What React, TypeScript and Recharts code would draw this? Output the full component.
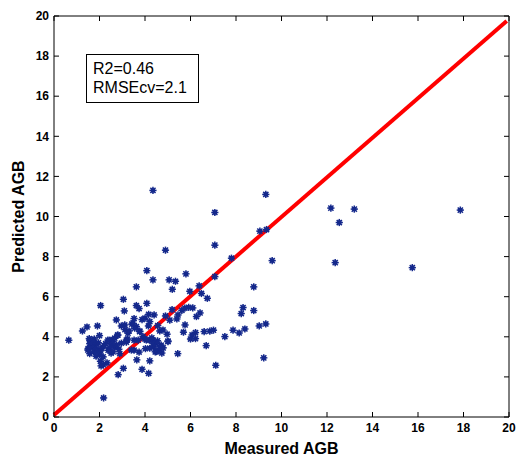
import { ScatterChart, Scatter, XAxis, YAxis, ReferenceArea } from 'recharts'

// measured vs predicted AGB
const measured = [
  4.35, 9.31, 7.07, 12.17, 13.2, 12.54, 17.86, 12.36, 15.75, 9.05, 9.34, 7.07, 4.9, 9.59, 7.8,
  4.08, 5.8, 4.35, 5.06, 5.34, 3.62, 8.78, 6.38, 5.2, 6.48, 5.97, 6.74, 7.07, 3.05, 2.05,
  4.08, 3.62, 3.74, 5.92, 6.1, 8.31, 3.09, 8.78, 6.42, 8.23, 5.19, 5.62, 4.16, 5.45, 4.9,
  4.4, 5.09, 5.4, 3.52, 3.87, 4.0, 2.74, 9.31, 9.02, 5.76, 1.91, 1.45, 2.96, 4.15, 4.56,
  3.42, 8.39, 7.87, 8.14, 1.25, 3.12, 3.3, 3.77, 5.69, 6.22, 6.6, 6.85, 7.01, 4.65, 4.97,
  6.07, 7.51, 0.65, 1.55, 1.77, 2.0, 2.45, 2.6, 2.79, 3.18, 3.23, 3.52, 3.7, 4.0, 4.19,
  4.35, 6.0, 6.22, 5.01, 4.46, 4.71, 6.69, 1.57, 1.86, 1.5, 1.69, 1.89, 2.1, 2.27, 2.38,
  2.67, 2.85, 3.52, 3.74, 4.02, 4.38, 4.62, 4.74, 1.57, 1.85, 2.16, 2.51, 2.89, 5.44, 2.04,
  2.33, 3.64, 4.21, 2.07, 3.05, 3.87, 2.82, 4.16, 7.11, 9.22, 2.18, 1.57, 1.79, 1.49, 2.01,
  2.17, 2.37, 2.52, 2.67, 2.81, 2.96, 3.18, 3.25, 3.4, 3.62, 3.77, 3.91, 4.06, 4.21, 4.35,
  4.5, 4.65, 4.79, 5.01, 3.47, 3.55, 3.11, 4.21, 5.75, 6.26, 1.6, 1.75, 1.95, 2.05, 1.65,
  1.8, 2.2, 1.9, 2.45, 2.6, 2.75, 2.55, 4.3, 4.55, 4.8, 4.45,
]
const predicted = [
  11.3, 11.1, 10.2, 10.42, 10.37, 9.7, 10.32, 7.7, 7.45, 9.27, 9.35, 8.57, 8.32, 7.8, 7.92,
  7.3, 7.14, 6.84, 6.84, 6.77, 6.49, 6.49, 6.54, 6.37, 6.16, 6.27, 5.92, 7.0, 5.87, 5.56,
  5.67, 5.56, 5.41, 5.47, 5.44, 5.46, 5.29, 5.31, 5.19, 5.16, 5.36, 5.32, 5.12, 5.09, 5.04,
  5.09, 4.83, 4.89, 4.91, 4.86, 4.93, 4.84, 4.64, 4.54, 4.59, 4.54, 4.49, 4.54, 4.54, 4.56,
  4.63, 4.39, 4.33, 4.19, 4.29, 4.36, 4.29, 4.28, 4.23, 4.21, 4.26, 4.28, 4.33, 4.29, 4.13,
  4.09, 4.01, 3.83, 3.91, 3.89, 4.06, 3.83, 3.86, 4.08, 3.73, 3.89, 3.83, 3.83, 3.89, 3.84,
  3.83, 3.89, 3.91, 3.79, 3.66, 3.58, 3.56, 3.66, 3.63, 3.41, 3.49, 3.36, 3.43, 3.66, 3.33,
  3.49, 3.38, 3.33, 3.24, 3.41, 3.49, 3.33, 3.19, 3.16, 3.03, 3.0, 3.19, 3.16, 3.16, 2.78,
  2.7, 2.85, 2.8, 2.55, 2.43, 2.38, 2.11, 2.18, 2.58, 2.95, 0.95, 3.84, 3.68, 3.34, 3.1,
  2.6, 3.84, 3.6, 3.93, 4.09, 3.68, 3.84, 4.18, 3.34, 4.51, 4.26, 4.01, 3.84, 3.43, 3.68,
  3.26, 3.51, 4.34, 3.76, 4.68, 4.43, 4.59, 4.76, 5.43, 5.01, 3.5, 3.25, 3.7, 3.3, 3.75,
  3.45, 3.55, 3.15, 3.45, 3.25, 3.6, 3.75, 3.95, 3.8, 3.45, 3.25,
]
const fitX = [0, 19.9]
const fitY = [0.1, 19.75]
const axisTicks = [0, 2, 4, 6, 8, 10, 12, 14, 16, 18, 20]

const points = measured.map((m, i) => ({ x: m, y: predicted[i] }))
const fitLine = fitX.map((x, i) => ({ x, y: fitY[i] }))

const W = 518
const H = 460
const margin = { top: 16, right: 9, bottom: 0, left: 0 }
const yAxisWidth = 54
const xAxisHeight = 43
const PL = margin.left + yAxisWidth
const PR = W - margin.right
const PT = margin.top
const PB = H - margin.bottom - xAxisHeight
const font = '"Liberation Sans", Arial, sans-serif'

const YTick = ({ y, payload }: any) => (
  <g>
    <line x1={PL} x2={PL + 5} y1={y} y2={y} stroke="#000" />
    <line x1={PR - 5} x2={PR} y1={y} y2={y} stroke="#000" />
    <text x={PL - 5} y={y} dy="0.35em" textAnchor="end" fontFamily={font} fontSize={12} fontWeight="bold" fill="#000">
      {payload.value}
    </text>
  </g>
)

const XTick = ({ x, payload }: any) => (
  <g>
    <line x1={x} x2={x} y1={PB} y2={PB - 5} stroke="#000" />
    <line x1={x} x2={x} y1={PT} y2={PT + 5} stroke="#000" />
    <text x={x} y={PB + 6} dy="0.71em" textAnchor="middle" fontFamily={font} fontSize={12} fontWeight="bold" fill="#000">
      {payload.value}
    </text>
  </g>
)

// matlab-ish '*' marker, drawn a bit fat like the raster original
const Star = ({ cx, cy }: any) => {
  const r = 3.6
  const d = r * 0.72
  const c = '#15298c'
  return (
    <g stroke={c} strokeWidth={1.5}>
      <circle cx={cx} cy={cy} r={2.4} fill={c} stroke="none" />
      <line x1={cx - r} x2={cx + r} y1={cy} y2={cy} />
      <line x1={cx} x2={cx} y1={cy - r} y2={cy + r} />
      <line x1={cx - d} x2={cx + d} y1={cy - d} y2={cy + d} />
      <line x1={cx - d} x2={cx + d} y1={cy + d} y2={cy - d} />
    </g>
  )
}

export default function App() {
  return (
    <div style={{ position: 'absolute', left: 0, top: 0, width: W, height: H, background: '#fff' }}>
      <ScatterChart width={W} height={H} margin={margin}>
        <XAxis
          type="number"
          dataKey="x"
          domain={[0, 20]}
          ticks={axisTicks}
          height={xAxisHeight}
          axisLine={false}
          tickLine={false}
          tick={<XTick />}
          interval={0}
          label={{
            value: 'Measured AGB',
            position: 'insideBottom',
            offset: 6,
            style: { fontFamily: font, fontSize: 16, fontWeight: 'bold', fill: '#000' },
          }}
        />
        <YAxis
          type="number"
          dataKey="y"
          domain={[0, 20]}
          ticks={axisTicks}
          width={yAxisWidth}
          axisLine={false}
          tickLine={false}
          tick={<YTick />}
          interval={0}
          label={{
            value: 'Predicted AGB',
            angle: -90,
            position: 'insideLeft',
            offset: 18,
            style: { fontFamily: font, fontSize: 16, fontWeight: 'bold', fill: '#000', textAnchor: 'middle' },
          }}
        />
        <ReferenceArea x1={0} x2={20} y1={0} y2={20} fill="none" stroke="#000" strokeWidth={1} ifOverflow="visible" />
        <Scatter
          data={fitLine}
          line={{ stroke: '#ff0000', strokeWidth: 4 }}
          shape={() => <g />}
          isAnimationActive={false}
        />
        <Scatter data={points} shape={<Star />} isAnimationActive={false} />
      </ScatterChart>
      <div
        style={{
          position: 'absolute',
          left: 86,
          top: 54,
          width: 113,
          height: 49,
          border: '1px solid #000',
          boxSizing: 'border-box',
          padding: '4px 0 0 6px',
          fontFamily: font,
          fontSize: 16,
          lineHeight: '19px',
          color: '#000',
        }}
      >
        <div>R2=0.46</div>
        <div>RMSEcv=2.1</div>
      </div>
    </div>
  )
}
